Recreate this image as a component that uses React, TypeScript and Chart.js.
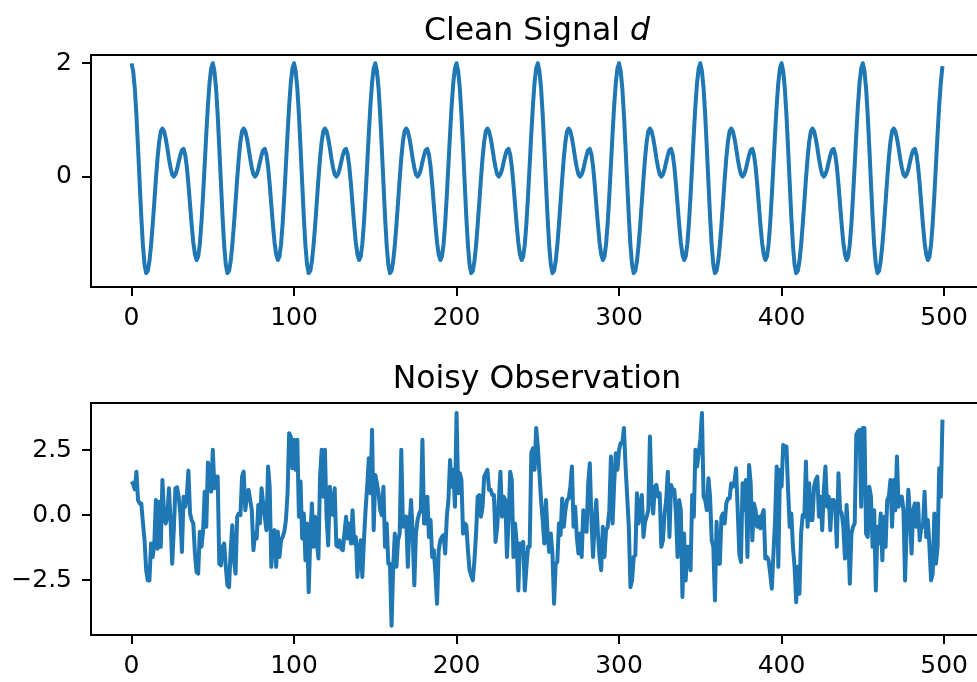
import React, { useEffect, useRef } from "react";
import { Chart, registerables } from "chart.js";

Chart.register(...registerables);

// ---------- texts & ticks ----------
const CLEAN_TITLE = "Clean Signal ";
const CLEAN_TITLE_MATH = "d";
const NOISY_TITLE = "Noisy Observation";

const X_TICKS = [0, 100, 200, 300, 400, 500];
const X_TICK_LABELS = ["0", "100", "200", "300", "400", "500"];
const CLEAN_Y_TICKS = [0, 2];
const CLEAN_Y_TICK_LABELS = ["0", "2"];
const NOISY_Y_TICKS = [-2.5, 0, 2.5];
const NOISY_Y_TICK_LABELS = ["\u22122.5", "0.0", "2.5"];

// ---------- data ----------
const clean = [
  2.00, 1.86, 1.56, 1.09, 0.51, -0.11, -0.71, -1.21, -1.55, -1.70, -1.66, -1.49, -1.21, -0.85, -0.45, -0.04, 0.33, 0.62, 0.80, 0.85, 0.80, 0.68, 0.51, 0.32, 0.16, 0.04, 0.00, 0.04, 0.13, 0.26, 0.38, 0.47, 0.49, 0.39, 0.18, -0.13, -0.49, -0.85, -1.16, -1.37, -1.47, -1.41, -1.19, -0.82, -0.33, 0.21, 0.76, 1.26, 1.66, 1.91,
  2.00, 1.86, 1.56, 1.09, 0.51, -0.11, -0.71, -1.21, -1.55, -1.70, -1.66, -1.49, -1.21, -0.85, -0.45, -0.04, 0.33, 0.62, 0.80, 0.85, 0.80, 0.68, 0.51, 0.32, 0.16, 0.04, 0.00, 0.04, 0.13, 0.26, 0.38, 0.47, 0.49, 0.39, 0.18, -0.13, -0.49, -0.85, -1.16, -1.37, -1.47, -1.41, -1.19, -0.82, -0.33, 0.21, 0.76, 1.26, 1.66, 1.91,
  2.00, 1.86, 1.56, 1.09, 0.51, -0.11, -0.71, -1.21, -1.55, -1.70, -1.66, -1.49, -1.21, -0.85, -0.45, -0.04, 0.33, 0.62, 0.80, 0.85, 0.80, 0.68, 0.51, 0.32, 0.16, 0.04, 0.00, 0.04, 0.13, 0.26, 0.38, 0.47, 0.49, 0.39, 0.18, -0.13, -0.49, -0.85, -1.16, -1.37, -1.47, -1.41, -1.19, -0.82, -0.33, 0.21, 0.76, 1.26, 1.66, 1.91,
  2.00, 1.86, 1.56, 1.09, 0.51, -0.11, -0.71, -1.21, -1.55, -1.70, -1.66, -1.49, -1.21, -0.85, -0.45, -0.04, 0.33, 0.62, 0.80, 0.85, 0.80, 0.68, 0.51, 0.32, 0.16, 0.04, 0.00, 0.04, 0.13, 0.26, 0.38, 0.47, 0.49, 0.39, 0.18, -0.13, -0.49, -0.85, -1.16, -1.37, -1.47, -1.41, -1.19, -0.82, -0.33, 0.21, 0.76, 1.26, 1.66, 1.91,
  2.00, 1.86, 1.56, 1.09, 0.51, -0.11, -0.71, -1.21, -1.55, -1.70, -1.66, -1.49, -1.21, -0.85, -0.45, -0.04, 0.33, 0.62, 0.80, 0.85, 0.80, 0.68, 0.51, 0.32, 0.16, 0.04, 0.00, 0.04, 0.13, 0.26, 0.38, 0.47, 0.49, 0.39, 0.18, -0.13, -0.49, -0.85, -1.16, -1.37, -1.47, -1.41, -1.19, -0.82, -0.33, 0.21, 0.76, 1.26, 1.66, 1.91,
  2.00, 1.86, 1.56, 1.09, 0.51, -0.11, -0.71, -1.21, -1.55, -1.70, -1.66, -1.49, -1.21, -0.85, -0.45, -0.04, 0.33, 0.62, 0.80, 0.85, 0.80, 0.68, 0.51, 0.32, 0.16, 0.04, 0.00, 0.04, 0.13, 0.26, 0.38, 0.47, 0.49, 0.39, 0.18, -0.13, -0.49, -0.85, -1.16, -1.37, -1.47, -1.41, -1.19, -0.82, -0.33, 0.21, 0.76, 1.26, 1.66, 1.91,
  2.00, 1.86, 1.56, 1.09, 0.51, -0.11, -0.71, -1.21, -1.55, -1.70, -1.66, -1.49, -1.21, -0.85, -0.45, -0.04, 0.33, 0.62, 0.80, 0.85, 0.80, 0.68, 0.51, 0.32, 0.16, 0.04, 0.00, 0.04, 0.13, 0.26, 0.38, 0.47, 0.49, 0.39, 0.18, -0.13, -0.49, -0.85, -1.16, -1.37, -1.47, -1.41, -1.19, -0.82, -0.33, 0.21, 0.76, 1.26, 1.66, 1.91,
  2.00, 1.86, 1.56, 1.09, 0.51, -0.11, -0.71, -1.21, -1.55, -1.70, -1.66, -1.49, -1.21, -0.85, -0.45, -0.04, 0.33, 0.62, 0.80, 0.85, 0.80, 0.68, 0.51, 0.32, 0.16, 0.04, 0.00, 0.04, 0.13, 0.26, 0.38, 0.47, 0.49, 0.39, 0.18, -0.13, -0.49, -0.85, -1.16, -1.37, -1.47, -1.41, -1.19, -0.82, -0.33, 0.21, 0.76, 1.26, 1.66, 1.91,
  2.00, 1.86, 1.56, 1.09, 0.51, -0.11, -0.71, -1.21, -1.55, -1.70, -1.66, -1.49, -1.21, -0.85, -0.45, -0.04, 0.33, 0.62, 0.80, 0.85, 0.80, 0.68, 0.51, 0.32, 0.16, 0.04, 0.00, 0.04, 0.13, 0.26, 0.38, 0.47, 0.49, 0.39, 0.18, -0.13, -0.49, -0.85, -1.16, -1.37, -1.47, -1.41, -1.19, -0.82, -0.33, 0.21, 0.76, 1.26, 1.66, 1.91,
  2.00, 1.86, 1.56, 1.09, 0.51, -0.11, -0.71, -1.21, -1.55, -1.70, -1.66, -1.49, -1.21, -0.85, -0.45, -0.04, 0.33, 0.62, 0.80, 0.85, 0.80, 0.68, 0.51, 0.32, 0.16, 0.04, 0.00, 0.04, 0.13, 0.26, 0.38, 0.47, 0.49, 0.39, 0.18, -0.13, -0.49, -0.85, -1.16, -1.37, -1.47, -1.41, -1.19, -0.82, -0.33, 0.21, 0.76, 1.26, 1.66, 1.95,
];

const noisy = [
  1.29, 1.20, 0.99, 1.67, 0.58, 0.45, 0.45, -0.30, -0.97, -2.12,
  -2.51, -2.51, -1.09, -1.61, -1.09, 0.58, -1.29, 0.51, -1.22, 1.35,
  0.06, -0.32, -0.06, 1.03, -0.19, -1.87, -0.58, 1.03, 1.07, 0.71,
  0.06, -1.42, 0.71, 0.32, 0.71, 1.71, 0.06, -0.19, -0.32, -1.48,
  -2.19, -2.25, -0.64, -1.22, -0.64, 0.90, -0.45, 2.02, 1.74, 0.90,
  2.51, 1.03, 1.48, 1.48, -1.87, -1.93, -1.22, -1.09, -1.99, -2.70,
  -2.77, -1.35, -0.39, -1.74, -2.25, -0.06, 0.06, 0.00, 1.48, 1.67,
  0.19, 0.71, 0.97, 0.58, 0.19, -1.35, -0.71, -0.90, 0.39, -0.32,
  1.03, 0.45, -0.06, -0.58, 1.87, 1.09, -1.99, -0.71, -0.58, -1.99,
  -0.64, -1.61, -0.97, -0.84, -0.64, -0.19, 0.84, 3.15, 3.02, 1.80,
  2.90, 1.74, 2.90, -0.06, 1.29, -0.90, 0.06, -1.74, -0.32, -2.96,
  -0.84, 0.45, -1.22, -0.06, -0.97, -1.67, 1.48, 2.51, 0.71, 2.51,
  -0.06, -1.16, 1.09, 0.32, 0.00, 1.03, -1.16, -1.22, -0.97, -1.29,
  -1.35, -0.71, -0.06, -0.90, -0.32, -1.09, 0.19, -1.09, -0.84, -2.38,
  -1.35, -0.97, -2.38, -0.97, 0.19, 1.09, 2.19, 0.84, 3.28, -0.58,
  1.54, 1.22, 0.84, 0.19, 0.00, 1.09, -1.22, -0.32, -1.87, -1.87,
  -4.25, -1.99, -0.71, -1.99, -0.97, -0.71, 2.51, -0.45, -0.19, -0.06,
  -1.99, -0.45, 0.58, -0.71, -2.70, -0.71, -0.19, 0.06, 0.19, 2.90,
  -0.32, -0.32, 0.71, -0.84, -0.19, -1.61, -1.35, -2.25, -3.41, -1.35,
  -0.97, -0.84, -0.77, -1.48, -0.06, 0.58, 2.12, 1.09, 1.74, 0.32,
  3.93, 0.84, 1.61, 1.35, -0.71, -0.32, -0.39, -1.35, -2.12, -2.32,
  -2.51, -1.74, -0.71, 0.71, 0.77, -0.06, 0.32, 1.48, 1.61, 1.74,
  0.97, 0.97, 0.77, 0.77, -1.03, -0.45, 0.58, 1.67, -0.06, 0.71,
  0.58, -1.61, -0.19, 1.67, 1.35, -1.61, -0.32, -1.09, -2.90, -1.09,
  -1.22, -1.03, -2.90, -1.99, -1.22, -1.22, 2.38, 2.57, 1.74, 3.35,
  2.64, 1.60, 0.58, -0.20, -1.09, 0.58, -0.71, -1.42, -0.71, -1.48,
  -3.41, -1.87, -1.80, -0.32, -0.77, 0.64, -0.45, 0.19, 0.58, 0.64,
  1.09, 1.87, -0.45, 0.32, -0.84, -1.48, -0.71, -1.61, 0.19, -0.58,
  -0.64, 1.22, 1.99, -0.19, -1.61, -0.19, 0.58, -0.71, -1.61, -2.12,
  -0.45, -1.61, -0.58, -0.45, 0.19, 2.25, -0.32, 1.22, 2.38, 1.74,
  2.51, 2.77, 2.77, 3.35, 1.87, 0.71, -0.45, -2.77, -2.51, -1.61,
  -1.54, 0.84, -0.32, 0.32, 0.77, -0.84, -0.26, -0.06, 0.19, 3.02,
  0.84, 0.06, 1.09, 1.16, 0.71, 0.84, -1.22, -0.97, 0.06, 0.58,
  1.67, -0.84, 1.16, 0.97, 0.97, 0.06, -1.61, 0.58, 0.19, -3.15,
  -0.71, -2.51, -1.22, -1.22, -2.12, 0.77, -0.06, 2.51, 1.87, 2.38,
  2.90, 3.93, 0.71, 0.58, 0.19, 1.42, 0.71, -0.97, -1.22, -3.28,
  -0.26, -1.87, -1.87, -0.06, 0.06, -0.32, 0.45, 0.64, 0.64, 1.22,
  1.09, 1.29, 1.80, 0.19, -1.48, -1.80, 1.22, 0.19, 1.35, -1.61,
  1.93, 1.22, -0.97, 0.45, 0.19, -0.45, -0.06, -0.51, 0.00, 0.19,
  -1.67, -1.61, -1.74, -2.25, -2.83, -1.48, -0.19, 1.87, -1.99, 1.74,
  1.09, 2.70, 2.64, 2.64, 0.97, -0.45, 0.06, -1.22, -1.99, -3.35,
  -1.99, -3.02, -0.71, 0.00, -0.06, 2.06, -0.45, 1.22, -0.19, -0.19,
  1.09, 1.35, 1.48, -0.06, 0.71, -0.58, 0.97, 1.87, 0.32, 0.71,
  -0.58, 0.58, 0.58, 0.45, -1.22, 1.61, 0.19, 0.06, -0.45, -1.67,
  0.39, -0.71, -2.64, -0.71, -0.45, -0.32, 3.09, 3.22, 3.28, 0.32,
  3.35, 3.35, -0.71, -0.84, 1.09, 0.71, -1.22, 0.19, -2.90, -0.45,
  -1.09, 0.06, -1.74, -0.06, -1.22, 0.58, 0.71, 1.35, -0.45, 1.35,
  0.19, 2.25, 0.32, 0.58, 0.71, 0.19, -2.51, -0.45, 0.97, -0.06,
  -1.48, 0.19, 0.45, -0.45, 0.45, -0.97, -0.45, -0.45, 0.90, -0.84,
  -0.19, -1.22, -2.51, -2.25, 0.06, -1.87, -1.22, 1.80, 0.71, 3.67,
];

// ---------- styling ----------
const FONT = "DejaVu Sans";
const LINE_COLOR = "#1f77b4";
const CANVAS_W = 1000;
const CANVAS_H = 341;

const framePlugin = {
  id: "frame",
  afterDraw(chart: any, _args: any, opts: any) {
    const { ctx, chartArea: a } = chart;
    ctx.save();
    ctx.strokeStyle = "#000";
    ctx.lineWidth = 2;
    ctx.beginPath();
    ctx.moveTo(Math.round(a.left), Math.round(a.top));
    ctx.lineTo(Math.round(a.right), Math.round(a.top));
    ctx.lineTo(Math.round(a.right), Math.round(a.bottom));
    ctx.stroke();

    const normal = `31.5px "${FONT}"`;
    const italic = `italic 31.5px "${FONT}"`;
    ctx.fillStyle = "#000";
    ctx.textBaseline = "alphabetic";
    ctx.textAlign = "left";
    ctx.font = normal;
    const w1 = ctx.measureText(opts.text).width;
    let w2 = 0;
    if (opts.math) {
      ctx.font = italic;
      w2 = ctx.measureText(opts.math).width;
    }
    const cx = (a.left + a.right) / 2;
    const x0 = cx - (w1 + w2) / 2;
    const y = a.top - 15.5;
    ctx.font = normal;
    ctx.fillText(opts.text, x0, y);
    if (opts.math) {
      ctx.font = italic;
      ctx.fillText(opts.math, x0 + w1, y);
    }
    ctx.restore();
  },
};

function makeConfig(
  values: number[],
  yMin: number,
  yMax: number,
  yTicks: number[],
  yLabels: string[],
  plotTop: number,
  plotBottom: number,
  title: string,
  math: string
): any {
  const tickFont = { family: FONT, size: 25 };
  const grid = {
    display: true,
    drawOnChartArea: false,
    drawTicks: true,
    tickLength: 9,
    tickWidth: 2,
    tickColor: "#000",
    color: "#000",
    lineWidth: 2,
  };
  return {
    type: "line",
    data: {
      datasets: [
        {
          data: values.map((v, i) => ({ x: i, y: v })),
          borderColor: LINE_COLOR,
          borderWidth: 4,
          pointRadius: 0,
          fill: false,
          tension: 0,
          borderJoinStyle: "round",
        },
      ],
    },
    options: {
      animation: false,
      responsive: false,
      devicePixelRatio: 1,
      layout: { padding: { left: 0, right: CANVAS_W - 983, top: plotTop, bottom: 0 } },
      plugins: {
        legend: { display: false },
        tooltip: { enabled: false },
        frame: { text: title, math },
      },
      scales: {
        x: {
          type: "linear",
          min: -24.95,
          max: 523.95,
          afterBuildTicks: (s: any) => {
            s.ticks = X_TICKS.map((v) => ({ value: v }));
          },
          afterFit: (s: any) => {
            s.height = CANVAS_H - plotBottom;
          },
          grid,
          border: { display: true, color: "#000", width: 2 },
          ticks: {
            callback: (_v: any, i: number) => X_TICK_LABELS[i],
            font: tickFont,
            color: "#000",
            padding: 7,
            maxRotation: 0,
            autoSkip: false,
          },
        },
        y: {
          type: "linear",
          min: yMin,
          max: yMax,
          afterBuildTicks: (s: any) => {
            s.ticks = yTicks.map((v) => ({ value: v }));
          },
          afterFit: (s: any) => {
            s.width = 91;
          },
          grid,
          border: { display: true, color: "#000", width: 2 },
          ticks: {
            callback: (_v: any, i: number) => yLabels[i],
            font: tickFont,
            color: "#000",
            padding: 10,
            autoSkip: false,
          },
        },
      },
    },
    plugins: [framePlugin],
  };
}

export default function App() {
  const topRef = useRef<HTMLCanvasElement>(null);
  const bottomRef = useRef<HTMLCanvasElement>(null);

  useEffect(() => {
    const c1 = new Chart(
      topRef.current as HTMLCanvasElement,
      makeConfig(clean, -1.945, 2.146, CLEAN_Y_TICKS, CLEAN_Y_TICK_LABELS, 55, 287, CLEAN_TITLE, CLEAN_TITLE_MATH)
    );
    const c2 = new Chart(
      bottomRef.current as HTMLCanvasElement,
      makeConfig(noisy, -4.61, 4.31, NOISY_Y_TICKS, NOISY_Y_TICK_LABELS, 62, 294, NOISY_TITLE, "")
    );
    return () => {
      c1.destroy();
      c2.destroy();
    };
  }, []);

  return (
    <div
      style={{
        position: "fixed",
        left: 0,
        top: 0,
        width: 977,
        height: 682,
        overflow: "hidden",
        background: "#fff",
      }}
    >
      <canvas
        ref={topRef}
        width={CANVAS_W}
        height={CANVAS_H}
        style={{ position: "absolute", left: 0, top: 0, width: CANVAS_W, height: CANVAS_H }}
      />
      <canvas
        ref={bottomRef}
        width={CANVAS_W}
        height={CANVAS_H}
        style={{ position: "absolute", left: 0, top: CANVAS_H, width: CANVAS_W, height: CANVAS_H }}
      />
    </div>
  );
}
